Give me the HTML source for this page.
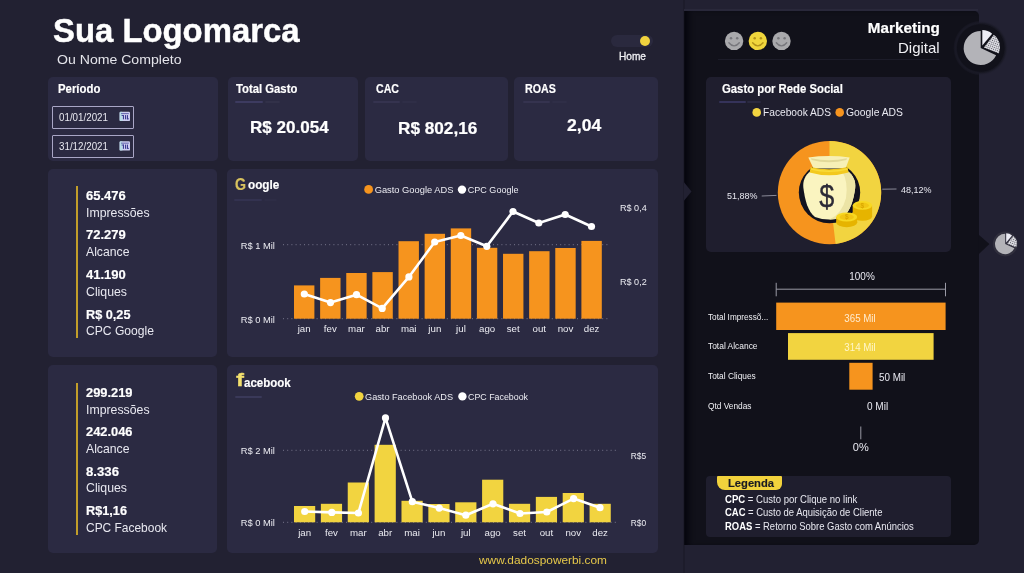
<!DOCTYPE html>
<html lang="pt-BR"><head><meta charset="utf-8"><title>Dashboard Marketing Digital</title>
<style>
html,body{margin:0;padding:0}
body{width:1024px;height:573px;overflow:hidden;background:#222132;font-family:"Liberation Sans", sans-serif;position:relative}
.c{position:absolute;box-sizing:border-box}
.t b{color:#fff}
.t{position:absolute;white-space:nowrap;line-height:1;font-family:"Liberation Sans", sans-serif}
svg{position:absolute;left:0;top:0;overflow:visible}
svg text{font-family:"Liberation Sans", sans-serif}
</style></head><body>
<!-- right dark panel -->
<div class="c" style="left:684px;top:10.8px;width:294.6px;height:533.8px;background:#11111a;border-radius:0 5px 5px 0;box-shadow:inset 7px 0 6px -3px #04040c"></div>
<div class="c" style="left:682.5px;top:0;width:2px;height:573px;background:rgba(20,20,32,.35)"></div>
<div class="c" style="left:684px;top:9px;width:294px;height:1.8px;background:#29283a"></div>
<div class="c" style="left:47.8px;top:77.4px;width:169.8px;height:84px;background:#2b2a42;border-radius:5px;"></div>
<div class="c" style="left:227.5px;top:77.4px;width:130.2px;height:84px;background:#2b2a42;border-radius:5px;"></div>
<div class="c" style="left:365px;top:77.4px;width:143px;height:84px;background:#2b2a42;border-radius:5px;"></div>
<div class="c" style="left:514.2px;top:77.4px;width:143.6px;height:84px;background:#2b2a42;border-radius:5px;"></div>
<div class="c" style="left:47.8px;top:169.4px;width:169.6px;height:187.6px;background:#2b2a42;border-radius:5px;"></div>
<div class="c" style="left:227.2px;top:169.4px;width:430.4px;height:187.6px;background:#2b2a42;border-radius:5px;"></div>
<div class="c" style="left:47.8px;top:365.2px;width:169.6px;height:187.5px;background:#2b2a42;border-radius:5px;"></div>
<div class="c" style="left:227.2px;top:365.2px;width:430.4px;height:187.5px;background:#2b2a42;border-radius:5px;"></div>
<div class="c" style="left:706.2px;top:77.2px;width:245px;height:175px;background:#1f1e2e;border-radius:5px;"></div>
<div class="c" style="left:706.2px;top:475.7px;width:244.8px;height:61.2px;background:#1f1e2e;border-radius:4px;"></div>
<div class="c" style="left:235px;top:100.8px;width:28px;height:2px;background:#3d3b60;border-radius:1px"></div><div class="c" style="left:264.5px;top:100.8px;width:15px;height:2px;background:#323149;border-radius:1px"></div>
<div class="c" style="left:372.7px;top:100.8px;width:27.5px;height:2px;background:#35334f;border-radius:1px"></div><div class="c" style="left:401.7px;top:100.8px;width:15px;height:2px;background:#2f2e47;border-radius:1px"></div>
<div class="c" style="left:523px;top:100.8px;width:27px;height:2px;background:#35334f;border-radius:1px"></div><div class="c" style="left:551.5px;top:100.8px;width:15px;height:2px;background:#2f2e47;border-radius:1px"></div>
<div class="c" style="left:234.4px;top:198.8px;width:28px;height:2px;background:#333250;border-radius:1px"></div><div class="c" style="left:263.9px;top:198.8px;width:13px;height:2px;background:#2e2d46;border-radius:1px"></div>
<div class="c" style="left:235px;top:395.9px;width:27.4px;height:2px;background:#3a3959;border-radius:1px"></div><div class="c" style="left:263.9px;top:395.9px;width:0px;height:2px;background:#323149;border-radius:1px"></div>
<div class="c" style="left:718.5px;top:101.3px;width:27.4px;height:2px;background:#35335a;border-radius:1px"></div><div class="c" style="left:747.4px;top:101.3px;width:14px;height:2px;background:#2a2940;border-radius:1px"></div>
<div class="c" style="left:717.7px;top:59px;width:221.5px;height:1.2px;background:#1c1c29"></div>
<!-- date inputs -->
<div class="c" style="left:52px;top:105.6px;width:81.8px;height:23px;border:1px solid #a9a6c6;border-radius:1px"></div>
<div class="c" style="left:52px;top:135px;width:81.8px;height:23px;border:1px solid #a9a6c6;border-radius:1px"></div>
<!-- stat bars -->
<div class="c" style="left:75.8px;top:186px;width:2.2px;height:152px;background:#c29e2a"></div>
<div class="c" style="left:75.8px;top:383px;width:2.2px;height:152px;background:#c29e2a"></div>
<!-- toggle -->
<div class="c" style="left:610.5px;top:34.5px;width:42px;height:12.6px;border-radius:7px;background:#2a293e"></div>
<div class="c" style="left:640px;top:35.6px;width:10.4px;height:10.4px;border-radius:50%;background:#f0d23e"></div>
<!-- legenda tag -->
<div class="c" style="left:717.2px;top:475.7px;width:65.2px;height:14.8px;background:#f2d23c;border-radius:1px 1px 6px 8px"></div>
<svg width="1024" height="573" viewBox="0 0 1024 573"><line x1="283" y1="244.7" x2="609" y2="244.7" stroke="#77768c" stroke-width="1" stroke-dasharray="1 3.2"/>
<line x1="283" y1="318.7" x2="609" y2="318.7" stroke="#77768c" stroke-width="1" stroke-dasharray="1 3.2"/>
<rect x="294.00" y="285.4" width="20.4" height="33.30" fill="#f6941e"/>
<rect x="320.13" y="277.9" width="20.4" height="40.80" fill="#f6941e"/>
<rect x="346.25" y="273" width="20.4" height="45.70" fill="#f6941e"/>
<rect x="372.38" y="272.1" width="20.4" height="46.60" fill="#f6941e"/>
<rect x="398.51" y="241.2" width="20.4" height="77.50" fill="#f6941e"/>
<rect x="424.63" y="233.8" width="20.4" height="84.90" fill="#f6941e"/>
<rect x="450.76" y="228.4" width="20.4" height="90.30" fill="#f6941e"/>
<rect x="476.89" y="247.8" width="20.4" height="70.90" fill="#f6941e"/>
<rect x="503.02" y="253.8" width="20.4" height="64.90" fill="#f6941e"/>
<rect x="529.14" y="251.2" width="20.4" height="67.50" fill="#f6941e"/>
<rect x="555.27" y="248" width="20.4" height="70.70" fill="#f6941e"/>
<rect x="581.40" y="240.9" width="20.4" height="77.80" fill="#f6941e"/>
<polyline fill="none" stroke="#fff" stroke-width="2.6" stroke-linejoin="round" points="304.3,294 330.5,302.6 356.5,294.7 382.2,308.4 408.9,276.9 434.7,242 460.8,235.5 486.8,246.3 513,211.5 538.8,223 565.2,214.5 591.5,226.5"/>
<circle cx="304.3" cy="294" r="3.6" fill="#fff"/>
<circle cx="330.5" cy="302.6" r="3.6" fill="#fff"/>
<circle cx="356.5" cy="294.7" r="3.6" fill="#fff"/>
<circle cx="382.2" cy="308.4" r="3.6" fill="#fff"/>
<circle cx="408.9" cy="276.9" r="3.6" fill="#fff"/>
<circle cx="434.7" cy="242" r="3.6" fill="#fff"/>
<circle cx="460.8" cy="235.5" r="3.6" fill="#fff"/>
<circle cx="486.8" cy="246.3" r="3.6" fill="#fff"/>
<circle cx="513" cy="211.5" r="3.6" fill="#fff"/>
<circle cx="538.8" cy="223" r="3.6" fill="#fff"/>
<circle cx="565.2" cy="214.5" r="3.6" fill="#fff"/>
<circle cx="591.5" cy="226.5" r="3.6" fill="#fff"/>
<text x="304.20" y="332" font-size="9.7" fill="#ececf2" text-anchor="middle">jan</text>
<text x="330.33" y="332" font-size="9.7" fill="#ececf2" text-anchor="middle">fev</text>
<text x="356.45" y="332" font-size="9.7" fill="#ececf2" text-anchor="middle">mar</text>
<text x="382.58" y="332" font-size="9.7" fill="#ececf2" text-anchor="middle">abr</text>
<text x="408.71" y="332" font-size="9.7" fill="#ececf2" text-anchor="middle">mai</text>
<text x="434.83" y="332" font-size="9.7" fill="#ececf2" text-anchor="middle">jun</text>
<text x="460.96" y="332" font-size="9.7" fill="#ececf2" text-anchor="middle">jul</text>
<text x="487.09" y="332" font-size="9.7" fill="#ececf2" text-anchor="middle">ago</text>
<text x="513.22" y="332" font-size="9.7" fill="#ececf2" text-anchor="middle">set</text>
<text x="539.34" y="332" font-size="9.7" fill="#ececf2" text-anchor="middle">out</text>
<text x="565.47" y="332" font-size="9.7" fill="#ececf2" text-anchor="middle">nov</text>
<text x="591.60" y="332" font-size="9.7" fill="#ececf2" text-anchor="middle">dez</text>
<text x="240.7" y="248.6" font-size="9.5" fill="#ececf2" lengthAdjust="spacingAndGlyphs" textLength="34.2">R$ 1 Mil</text>
<text x="240.7" y="322.6" font-size="9.5" fill="#ececf2" lengthAdjust="spacingAndGlyphs" textLength="34.2">R$ 0 Mil</text>
<text x="620" y="210.9" font-size="9.8" fill="#ececf2" lengthAdjust="spacingAndGlyphs" textLength="26.7">R$ 0,4</text>
<text x="620" y="284.6" font-size="9.8" fill="#ececf2" lengthAdjust="spacingAndGlyphs" textLength="26.7">R$ 0,2</text>
<circle cx="368.6" cy="189.4" r="4.4" fill="#f6941e"/>
<text x="374.7" y="193.1" font-size="9.5" fill="#ececf2" lengthAdjust="spacingAndGlyphs" textLength="78.7">Gasto Google ADS</text>
<circle cx="462" cy="189.6" r="4.2" fill="#fff"/>
<text x="467.8" y="193.1" font-size="9.5" fill="#ececf2" lengthAdjust="spacingAndGlyphs" textLength="50.7">CPC Google</text>
<line x1="283" y1="450.3" x2="619" y2="450.3" stroke="#77768c" stroke-width="1" stroke-dasharray="1 3.2"/>
<line x1="283" y1="522.3" x2="619" y2="522.3" stroke="#77768c" stroke-width="1" stroke-dasharray="1 3.2"/>
<rect x="294.00" y="506" width="21.2" height="16.30" fill="#f2d440"/>
<rect x="320.87" y="503.8" width="21.2" height="18.50" fill="#f2d440"/>
<rect x="347.74" y="482.5" width="21.2" height="39.80" fill="#f2d440"/>
<rect x="374.61" y="444.8" width="21.2" height="77.50" fill="#f2d440"/>
<rect x="401.48" y="500.8" width="21.2" height="21.50" fill="#f2d440"/>
<rect x="428.35" y="504" width="21.2" height="18.30" fill="#f2d440"/>
<rect x="455.22" y="502.3" width="21.2" height="20.00" fill="#f2d440"/>
<rect x="482.09" y="479.7" width="21.2" height="42.60" fill="#f2d440"/>
<rect x="508.96" y="503.8" width="21.2" height="18.50" fill="#f2d440"/>
<rect x="535.83" y="496.9" width="21.2" height="25.40" fill="#f2d440"/>
<rect x="562.70" y="493" width="21.2" height="29.30" fill="#f2d440"/>
<rect x="589.57" y="503.8" width="21.2" height="18.50" fill="#f2d440"/>
<polyline fill="none" stroke="#fff" stroke-width="2.6" stroke-linejoin="round" points="304.7,511.5 331.8,512.4 358.4,513 385.5,417.9 412.3,501.7 439.2,508.1 465.8,515.2 493,503.8 520,513.5 546.8,512 573.6,498.6 600,507.7"/>
<circle cx="304.7" cy="511.5" r="3.6" fill="#fff"/>
<circle cx="331.8" cy="512.4" r="3.6" fill="#fff"/>
<circle cx="358.4" cy="513" r="3.6" fill="#fff"/>
<circle cx="385.5" cy="417.9" r="3.6" fill="#fff"/>
<circle cx="412.3" cy="501.7" r="3.6" fill="#fff"/>
<circle cx="439.2" cy="508.1" r="3.6" fill="#fff"/>
<circle cx="465.8" cy="515.2" r="3.6" fill="#fff"/>
<circle cx="493" cy="503.8" r="3.6" fill="#fff"/>
<circle cx="520" cy="513.5" r="3.6" fill="#fff"/>
<circle cx="546.8" cy="512" r="3.6" fill="#fff"/>
<circle cx="573.6" cy="498.6" r="3.6" fill="#fff"/>
<circle cx="600" cy="507.7" r="3.6" fill="#fff"/>
<text x="304.60" y="536" font-size="9.7" fill="#ececf2" text-anchor="middle">jan</text>
<text x="331.47" y="536" font-size="9.7" fill="#ececf2" text-anchor="middle">fev</text>
<text x="358.34" y="536" font-size="9.7" fill="#ececf2" text-anchor="middle">mar</text>
<text x="385.21" y="536" font-size="9.7" fill="#ececf2" text-anchor="middle">abr</text>
<text x="412.08" y="536" font-size="9.7" fill="#ececf2" text-anchor="middle">mai</text>
<text x="438.95" y="536" font-size="9.7" fill="#ececf2" text-anchor="middle">jun</text>
<text x="465.82" y="536" font-size="9.7" fill="#ececf2" text-anchor="middle">jul</text>
<text x="492.69" y="536" font-size="9.7" fill="#ececf2" text-anchor="middle">ago</text>
<text x="519.56" y="536" font-size="9.7" fill="#ececf2" text-anchor="middle">set</text>
<text x="546.43" y="536" font-size="9.7" fill="#ececf2" text-anchor="middle">out</text>
<text x="573.30" y="536" font-size="9.7" fill="#ececf2" text-anchor="middle">nov</text>
<text x="600.17" y="536" font-size="9.7" fill="#ececf2" text-anchor="middle">dez</text>
<text x="240.7" y="454" font-size="9.5" fill="#ececf2" lengthAdjust="spacingAndGlyphs" textLength="34.2">R$ 2 Mil</text>
<text x="240.7" y="526.2" font-size="9.5" fill="#ececf2" lengthAdjust="spacingAndGlyphs" textLength="34.2">R$ 0 Mil</text>
<text x="630.8" y="459.2" font-size="9.8" fill="#ececf2" lengthAdjust="spacingAndGlyphs" textLength="15.4">R$5</text>
<text x="630.8" y="526.4" font-size="9.8" fill="#ececf2" lengthAdjust="spacingAndGlyphs" textLength="15.4">R$0</text>
<circle cx="359.2" cy="396.3" r="4.4" fill="#f2d440"/>
<text x="365.1" y="400" font-size="9.5" fill="#ececf2" lengthAdjust="spacingAndGlyphs" textLength="87.9">Gasto Facebook ADS</text>
<circle cx="462.4" cy="396.4" r="4.2" fill="#fff"/>
<text x="468" y="400" font-size="9.5" fill="#ececf2" lengthAdjust="spacingAndGlyphs" textLength="60">CPC Facebook</text>
<polygon points="978.4,234.5 989.4,244 978.4,254.5" fill="#11111a"/>
<polygon points="683.8,182 691.5,191.5 683.8,201" fill="#222132"/>
<defs><pattern id="hatch" width="2" height="2" patternUnits="userSpaceOnUse" patternTransform="rotate(20)"><rect width="2" height="2" fill="#e0e0e6"/><rect width="1" height="1" fill="#55555e"/></pattern><radialGradient id="glow"><stop offset="0.82" stop-color="#11111a"/><stop offset="0.9" stop-color="#191925"/><stop offset="1" stop-color="#222132" stop-opacity="0"/></radialGradient></defs>
<circle cx="980.7" cy="48" r="27.5" fill="url(#glow)"/>
<circle cx="980.7" cy="48" r="23.6" fill="#11111a"/>
<path d="M980.7,48 L980.7,31 A17,17 0 1 0 996.11,55.18 Z" fill="#b3b3b8"/><path d="M982.30,45.40 L982.30,30.10 A15.30,15.30 0 0 1 992.13,33.68 Z" fill="#ececf4"/><path d="M983.90,47.40 L993.84,34.67 A16.15,16.15 0 0 1 998.87,53.45 Z" fill="url(#hatch)"/>
<circle cx="1005.2" cy="244" r="12.4" fill="#302f3d"/>
<path d="M1005.2,244 L1005.2,233.8 A10.2,10.2 0 1 0 1014.44,248.31 Z" fill="#b3b3b8"/><path d="M1006.16,242.44 L1006.16,233.26 A9.18,9.18 0 0 1 1012.06,235.41 Z" fill="#ececf4"/><path d="M1007.12,243.64 L1013.09,236.00 A9.69,9.69 0 0 1 1016.10,247.27 Z" fill="url(#hatch)"/>
<circle cx="734.1" cy="40.9" r="9.2" fill="#a9a9ac"/><circle cx="731.0" cy="38.3" r="1.25" fill="#77777c"/><circle cx="737.2" cy="38.3" r="1.25" fill="#77777c"/><path d="M728.9,42.699999999999996 Q734.1,49.099999999999994 739.3000000000001,42.699999999999996" fill="none" stroke="#77777c" stroke-width="1.4" stroke-linecap="round"/>
<circle cx="757.8" cy="40.9" r="9.2" fill="#f0d63c"/><circle cx="754.6999999999999" cy="38.3" r="1.25" fill="#b3931a"/><circle cx="760.9" cy="38.3" r="1.25" fill="#b3931a"/><path d="M752.5999999999999,42.699999999999996 Q757.8,49.099999999999994 763.0,42.699999999999996" fill="none" stroke="#b3931a" stroke-width="1.4" stroke-linecap="round"/>
<circle cx="781.5" cy="40.9" r="9.2" fill="#a9a9ac"/><circle cx="778.4" cy="38.3" r="1.25" fill="#77777c"/><circle cx="784.6" cy="38.3" r="1.25" fill="#77777c"/><path d="M776.3,42.699999999999996 Q781.5,49.099999999999994 786.7,42.699999999999996" fill="none" stroke="#77777c" stroke-width="1.4" stroke-linecap="round"/>
<rect x="119.6" y="111.7" width="10.4" height="9.4" rx="1.2" fill="#cdcdf0"/><rect x="119.6" y="111.7" width="3" height="9.4" rx="1.2" fill="#b4dfe6" opacity="0.8"/><rect x="121.0" y="113.2" width="7.8" height="0.9" fill="#5a5aa6"/><rect x="121.6" y="115.10000000000001" width="2.4" height="0.9" fill="#3c3c94"/><rect x="122.9" y="115.10000000000001" width="1.1" height="4.2" fill="#3c3c94"/><rect x="125.0" y="115.10000000000001" width="1.1" height="4.2" fill="#3c3c94"/><rect x="126.9" y="115.10000000000001" width="1.1" height="4.2" fill="#3c3c94"/><rect x="126.9" y="118.4" width="2" height="0.9" fill="#3c3c94"/>
<rect x="119.6" y="141.2" width="10.4" height="9.4" rx="1.2" fill="#cdcdf0"/><rect x="119.6" y="141.2" width="3" height="9.4" rx="1.2" fill="#b4dfe6" opacity="0.8"/><rect x="121.0" y="142.7" width="7.8" height="0.9" fill="#5a5aa6"/><rect x="121.6" y="144.6" width="2.4" height="0.9" fill="#3c3c94"/><rect x="122.9" y="144.6" width="1.1" height="4.2" fill="#3c3c94"/><rect x="125.0" y="144.6" width="1.1" height="4.2" fill="#3c3c94"/><rect x="126.9" y="144.6" width="1.1" height="4.2" fill="#3c3c94"/><rect x="126.9" y="147.9" width="2" height="0.9" fill="#3c3c94"/>
<circle cx="829.5" cy="192.6" r="51.7" fill="#f6941e"/>
<path d="M829.50,140.90 A51.7,51.7 0 0 1 835.59,243.94 L829.5,192.6 Z" fill="#f2d440"/>
<circle cx="829.5" cy="192.6" r="30.7" fill="#12121f"/>
<line x1="761.7" y1="196" x2="776.5" y2="195.4" stroke="#8a8a98" stroke-width="1"/>
<line x1="882.3" y1="189.2" x2="896.5" y2="189" stroke="#8a8a98" stroke-width="1"/>
<g id="bag"><path d="M808.3,157.4 Q829,154.8 849.7,157.4 L845.6,168.5 L813.5,168.5 Z" fill="#f7f0b6"/><path d="M811,158.2 Q829,162.4 847,158.2 L846.4,160 Q829,164.6 811.6,160 Z" fill="#e2d998"/><path d="M811,171 C805,175 802.6,181 803.4,188 C805,200 808,212 815,217 Q829,222 843,217 C850,212 853.6,200 855.2,188 C856,181 853,175 847.5,171 Z" fill="#faf4c0"/><path d="M847.5,171 C853,175 856,181 855.2,188 C853.6,200 850,212 843,217 Q836,219.5 829,219.8 Q842,214 846,198 Q848.5,182 842,171 Z" fill="#ece4a6"/><path d="M810.6,167 Q829,171.5 847.6,167 L848.6,172.4 Q829,178 809.6,172.4 Z" fill="#f3c91f"/><path d="M811,168.2 Q829,172.6 847.2,168.2 L847.4,169.8 Q829,174.4 810.8,169.8 Z" fill="#f9dc3a"/><text transform="translate(826.8,207.4) scale(0.86,1)" x="0" y="0" font-size="31.5" font-weight="400" fill="#2c2a36" stroke="#2c2a36" stroke-width="0.3" text-anchor="middle">$</text></g>
<ellipse cx="862.4" cy="216.4" rx="9.7" ry="4.4" fill="#e6b400"/><rect x="852.6999999999999" y="205.4" width="19.4" height="11" fill="#e6b400"/><ellipse cx="862.4" cy="205.4" rx="9.7" ry="4.4" fill="#f8d822"/><ellipse cx="862.4" cy="205.4" rx="6.60" ry="2.82" fill="#f2c614"/><text x="862.4" y="207.70000000000002" font-size="6.5" font-weight="700" fill="#dba800" text-anchor="middle">$</text>
<ellipse cx="846.7" cy="222.6" rx="10.5" ry="4.6" fill="#e6b400"/><rect x="836.2" y="217" width="21.0" height="5.6" fill="#e6b400"/><ellipse cx="846.7" cy="217" rx="10.5" ry="4.6" fill="#f8d822"/><ellipse cx="846.7" cy="217" rx="7.14" ry="2.94" fill="#f2c614"/><text x="846.7" y="219.3" font-size="6.5" font-weight="700" fill="#dba800" text-anchor="middle">$</text>
<circle cx="756.7" cy="112.4" r="4.3" fill="#f2d440"/><circle cx="839.7" cy="112.4" r="4.3" fill="#f6941e"/>
<path d="M776.2,282.8 V296.3 M776.2,289.2 H945.5 M945.5,282.8 V296.3" fill="none" stroke="#9a9aa6" stroke-width="1"/>
<rect x="776.2" y="302.6" width="169.4" height="27.4" fill="#f6941e"/>
<rect x="788" y="333.1" width="145.6" height="26.7" fill="#f2d440"/>
<rect x="849.3" y="362.8" width="23.3" height="26.9" fill="#f6941e"/>
<line x1="860.8" y1="426.5" x2="860.8" y2="439.3" stroke="#9a9aa6" stroke-width="1"/></svg>
<span class="t" id="t0" style="font-size:33.5px;font-weight:700;color:#fff;top:13.64px;left:53.00px;transform-origin:0 50%;transform:scaleX(0.9808);-webkit-text-stroke:0.47px;">Sua Logomarca</span>
<span class="t" id="t1" style="font-size:13.5px;font-weight:400;color:#e4e4ea;top:52.57px;left:57.00px;transform-origin:0 50%;transform:scaleX(1.0435);">Ou Nome Completo</span>
<span class="t" id="t2" style="font-size:11px;font-weight:400;color:#f0f0f4;top:51.49px;left:619.00px;transform-origin:0 50%;transform:scaleX(0.9201);-webkit-text-stroke:0.3px #f0f0f4;">Home</span>
<span class="t" id="t3" style="font-size:15px;font-weight:700;color:#fff;top:19.90px;right:84.00px;transform-origin:100% 50%;transform:scaleX(1.0161);-webkit-text-stroke:0.21px;">Marketing</span>
<span class="t" id="t4" style="font-size:15px;font-weight:400;color:#f0f0f4;top:39.90px;right:84.00px;transform-origin:100% 50%;transform:scaleX(1.0003);">Digital</span>
<span class="t" id="t5" style="font-size:12px;font-weight:700;color:#fff;top:82.84px;left:57.60px;transform-origin:0 50%;transform:scaleX(0.9491);-webkit-text-stroke:0.17px;">Período</span>
<span class="t" id="t6" style="font-size:12px;font-weight:700;color:#fff;top:82.84px;left:236.40px;transform-origin:0 50%;transform:scaleX(0.9413);-webkit-text-stroke:0.17px;">Total Gasto</span>
<span class="t" id="t7" style="font-size:12px;font-weight:700;color:#fff;top:82.84px;left:376.00px;transform-origin:0 50%;transform:scaleX(0.8846);-webkit-text-stroke:0.17px;">CAC</span>
<span class="t" id="t8" style="font-size:12px;font-weight:700;color:#fff;top:82.84px;left:525.40px;transform-origin:0 50%;transform:scaleX(0.8912);-webkit-text-stroke:0.17px;">ROAS</span>
<span class="t" id="t9" style="font-size:12px;font-weight:700;color:#fff;top:82.84px;left:721.60px;transform-origin:0 50%;transform:scaleX(0.9434);-webkit-text-stroke:0.17px;">Gasto por Rede Social</span>
<span class="t" id="t10" style="font-size:16.5px;font-weight:700;color:#fff;top:118.93px;left:250.30px;transform-origin:0 50%;transform:scaleX(1.0334);-webkit-text-stroke:0.23px;">R$ 20.054</span>
<span class="t" id="t11" style="font-size:16.5px;font-weight:700;color:#fff;top:119.53px;left:397.50px;transform-origin:0 50%;transform:scaleX(1.0413);-webkit-text-stroke:0.23px;">R$ 802,16</span>
<span class="t" id="t12" style="font-size:16.5px;font-weight:700;color:#fff;top:117.13px;left:567.40px;transform-origin:0 50%;transform:scaleX(1.0646);-webkit-text-stroke:0.23px;">2,04</span>
<span class="t" id="t13" style="font-size:10px;font-weight:400;color:#e8e8f0;top:112.83px;left:59.00px;transform-origin:0 50%;transform:scaleX(0.9788);">01/01/2021</span>
<span class="t" id="t14" style="font-size:10px;font-weight:400;color:#e8e8f0;top:142.44px;left:59.00px;transform-origin:0 50%;transform:scaleX(0.9788);">31/12/2021</span>
<span class="t" id="t15" style="font-size:13px;font-weight:700;color:#fff;top:189.00px;left:86.40px;transform-origin:0 50%;transform:scaleX(1.0009);-webkit-text-stroke:0.18px;">65.476</span>
<span class="t" id="t16" style="font-size:13px;font-weight:400;color:#e8e8f0;top:206.00px;left:86.40px;transform-origin:0 50%;transform:scaleX(0.9464);">Impressões</span>
<span class="t" id="t17" style="font-size:13px;font-weight:700;color:#fff;top:228.00px;left:86.40px;transform-origin:0 50%;transform:scaleX(1.0009);-webkit-text-stroke:0.18px;">72.279</span>
<span class="t" id="t18" style="font-size:13px;font-weight:400;color:#e8e8f0;top:245.00px;left:86.40px;transform-origin:0 50%;transform:scaleX(0.9405);">Alcance</span>
<span class="t" id="t19" style="font-size:13px;font-weight:700;color:#fff;top:268.00px;left:86.40px;transform-origin:0 50%;transform:scaleX(1.0009);-webkit-text-stroke:0.18px;">41.190</span>
<span class="t" id="t20" style="font-size:13px;font-weight:400;color:#e8e8f0;top:284.60px;left:86.40px;transform-origin:0 50%;transform:scaleX(0.9456);">Cliques</span>
<span class="t" id="t21" style="font-size:13px;font-weight:700;color:#fff;top:307.60px;left:86.40px;transform-origin:0 50%;transform:scaleX(0.9770);-webkit-text-stroke:0.18px;">R$ 0,25</span>
<span class="t" id="t22" style="font-size:13px;font-weight:400;color:#e8e8f0;top:324.40px;left:86.40px;transform-origin:0 50%;transform:scaleX(0.9317);">CPC Google</span>
<span class="t" id="t23" style="font-size:13px;font-weight:700;color:#fff;top:385.60px;left:86.40px;transform-origin:0 50%;transform:scaleX(0.9894);-webkit-text-stroke:0.18px;">299.219</span>
<span class="t" id="t24" style="font-size:13px;font-weight:400;color:#e8e8f0;top:402.60px;left:86.40px;transform-origin:0 50%;transform:scaleX(0.9464);">Impressões</span>
<span class="t" id="t25" style="font-size:13px;font-weight:700;color:#fff;top:424.60px;left:86.40px;transform-origin:0 50%;transform:scaleX(0.9894);-webkit-text-stroke:0.18px;">242.046</span>
<span class="t" id="t26" style="font-size:13px;font-weight:400;color:#e8e8f0;top:441.60px;left:86.40px;transform-origin:0 50%;transform:scaleX(0.9405);">Alcance</span>
<span class="t" id="t27" style="font-size:13px;font-weight:700;color:#fff;top:464.60px;left:86.40px;transform-origin:0 50%;transform:scaleX(1.0139);-webkit-text-stroke:0.18px;">8.336</span>
<span class="t" id="t28" style="font-size:13px;font-weight:400;color:#e8e8f0;top:481.20px;left:86.40px;transform-origin:0 50%;transform:scaleX(0.9456);">Cliques</span>
<span class="t" id="t29" style="font-size:13px;font-weight:700;color:#fff;top:504.20px;left:86.40px;transform-origin:0 50%;transform:scaleX(0.9780);-webkit-text-stroke:0.18px;">R$1,16</span>
<span class="t" id="t30" style="font-size:13px;font-weight:400;color:#e8e8f0;top:521.00px;left:86.40px;transform-origin:0 50%;transform:scaleX(0.9188);">CPC Facebook</span>
<span class="t" id="t31" style="font-size:11px;font-weight:400;color:#e6c84a;top:555.29px;left:479.00px;transform-origin:0 50%;transform:scaleX(1.0790);">www.dadospowerbi.com</span>
<span class="t" id="t32" style="font-size:11.5px;font-weight:400;color:#e8e8f0;top:106.77px;left:762.50px;transform-origin:0 50%;transform:scaleX(0.8864);">Facebook ADS</span>
<span class="t" id="t33" style="font-size:11.5px;font-weight:400;color:#e8e8f0;top:106.77px;left:845.50px;transform-origin:0 50%;transform:scaleX(0.9005);">Google ADS</span>
<span class="t" id="t34" style="font-size:9.6px;font-weight:400;color:#e8e8f0;top:191.47px;left:727.40px;transform-origin:0 50%;transform:scaleX(0.9371);">51,88%</span>
<span class="t" id="t35" style="font-size:9.6px;font-weight:400;color:#e8e8f0;top:184.57px;left:900.60px;transform-origin:0 50%;transform:scaleX(0.9371);">48,12%</span>
<span class="t" id="t36" style="font-size:10.6px;font-weight:400;color:#e8e8f0;top:271.43px;left:861.60px;transform-origin:50% 50%;transform:translateX(-50%) scaleX(0.9406);">100%</span>
<span class="t" id="t37" style="font-size:11px;font-weight:400;color:#e8e8f0;top:441.99px;left:860.80px;transform-origin:50% 50%;transform:translateX(-50%);">0%</span>
<span class="t" id="t38" style="font-size:10.5px;font-weight:400;color:#ffeccf;top:312.61px;left:860.40px;transform-origin:50% 50%;transform:translateX(-50%) scaleX(0.9244);">365 Mil</span>
<span class="t" id="t39" style="font-size:10.5px;font-weight:400;color:#fff6c8;top:341.61px;left:860.40px;transform-origin:50% 50%;transform:translateX(-50%) scaleX(0.9244);">314 Mil</span>
<span class="t" id="t40" style="font-size:10.5px;font-weight:400;color:#e8e8f0;top:371.91px;left:878.70px;transform-origin:0 50%;transform:scaleX(0.9388);">50 Mil</span>
<span class="t" id="t41" style="font-size:10.5px;font-weight:400;color:#e8e8f0;top:401.11px;left:867.00px;transform-origin:0 50%;transform:scaleX(0.9562);">0 Mil</span>
<span class="t" id="t42" style="font-size:9.5px;font-weight:400;color:#f0f0f4;top:311.76px;left:708.40px;transform-origin:0 50%;transform:scaleX(0.8637);">Total Impressõ...</span>
<span class="t" id="t43" style="font-size:9.5px;font-weight:400;color:#f0f0f4;top:341.16px;left:708.40px;transform-origin:0 50%;transform:scaleX(0.8842);">Total Alcance</span>
<span class="t" id="t44" style="font-size:9.5px;font-weight:400;color:#f0f0f4;top:371.16px;left:708.40px;transform-origin:0 50%;transform:scaleX(0.8770);">Total Cliques</span>
<span class="t" id="t45" style="font-size:9.5px;font-weight:400;color:#f0f0f4;top:400.86px;left:708.40px;transform-origin:0 50%;transform:scaleX(0.8760);">Qtd Vendas</span>
<span class="t" id="t46" style="font-size:11.6px;font-weight:700;color:#1a1a22;top:476.88px;left:727.50px;transform-origin:0 50%;transform:scaleX(0.9649);-webkit-text-stroke:0.16px;">Legenda</span>
<span class="t" id="t47" style="font-size:10.4px;font-weight:400;color:#e8e8f0;top:494.80px;left:724.60px;transform-origin:0 50%;transform:scaleX(0.9187);"><b>CPC</b> = Custo por Clique no link</span>
<span class="t" id="t48" style="font-size:10.4px;font-weight:400;color:#e8e8f0;top:508.00px;left:724.60px;transform-origin:0 50%;transform:scaleX(0.9098);"><b>CAC</b> = Custo de Aquisição de Cliente</span>
<span class="t" id="t49" style="font-size:10.4px;font-weight:400;color:#e8e8f0;top:521.70px;left:724.60px;transform-origin:0 50%;transform:scaleX(0.9088);"><b>ROAS</b> = Retorno Sobre Gasto com Anúncios</span>
<span class="t" id="t50" style="font-size:15.8px;font-weight:700;color:#d8c25e;top:177.43px;left:234.60px;transform-origin:0 50%;transform:scaleX(0.8945);-webkit-text-stroke:0.22px;">G</span>
<span class="t" id="t51" style="font-size:12px;font-weight:700;color:#fff;top:179.24px;left:247.90px;transform-origin:0 50%;transform:scaleX(0.9781);-webkit-text-stroke:0.17px;">oogle</span>
<span class="t" id="t52" style="font-size:18.8px;font-weight:700;color:#f3e06e;top:371.39px;left:236.40px;transform-origin:0 50%;transform:scaleX(1.2768);-webkit-text-stroke:0.26px;">f</span>
<span class="t" id="t53" style="font-size:12px;font-weight:700;color:#fff;top:376.54px;left:243.60px;transform-origin:0 50%;transform:scaleX(0.9592);-webkit-text-stroke:0.17px;">acebook</span>
</body></html>
